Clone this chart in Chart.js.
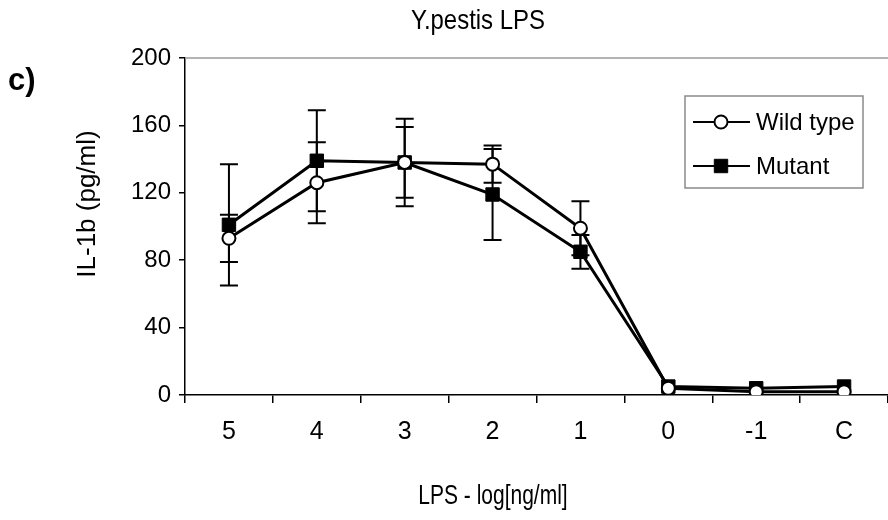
<!DOCTYPE html>
<html>
<head>
<meta charset="utf-8">
<script src="https://cdn.jsdelivr.net/npm/chart.js@4/dist/chart.umd.min.js"></script>
<style>
  html, body { margin: 0; padding: 0; background: #fff; }
  canvas { display: block; }
</style>
</head>
<body>
<canvas id="chart" width="888" height="520"></canvas>
<script>
// ── Data ───────────────────────────────────────────────────────
const categories = ['5', '4', '3', '2', '1', '0', '-1', 'C'];
const wildType   = [93, 126, 138, 137, 99, 4, 2, 2];
const wildErr    = [14, 24, 21, 11, 16, 0, 0, 0];
const mutant     = [101, 139, 138, 119, 85, 5, 4, 5];
const mutantErr  = [36, 30, 26, 27, 10, 0, 0, 0];
const yTicks     = [0, 40, 80, 120, 160, 200];

const SANS = '"Liberation Sans", Arial, sans-serif';

// the scanned figure is squeezed sideways, so horizontal text is narrowed
function narrowText(ctx, text, x, y, sx) {
  ctx.save();
  ctx.translate(x, y);
  ctx.scale(sx, 1);
  ctx.fillText(text, 0, 0);
  ctx.restore();
}

// ── Error bars (drawn under the markers) ───────────────────────
const errorBars = {
  id: 'errorBars',
  beforeDatasetsDraw(chart) {
    const { ctx, scales: { x, y } } = chart;
    ctx.save();
    ctx.strokeStyle = '#000';
    ctx.lineWidth = 2;
    chart.data.datasets.forEach(ds => {
      ds.data.forEach((v, i) => {
        const e = ds.errors[i];
        if (!e) return;
        const px  = x.getPixelForValue(i);
        const top = y.getPixelForValue(v + e);
        const bot = y.getPixelForValue(v - e);
        ctx.beginPath();
        ctx.moveTo(px, top); ctx.lineTo(px, bot);
        ctx.moveTo(px - 9, top); ctx.lineTo(px + 9, top);
        ctx.moveTo(px - 9, bot); ctx.lineTo(px + 9, bot);
        ctx.stroke();
      });
    });
    ctx.restore();
  },
};

// ── Frame, titles, panel letter, legend ────────────────────────
const decorations = {
  id: 'decorations',
  afterDraw(chart) {
    const { ctx, chartArea } = chart;
    ctx.save();

    // grey top edge of the plot area
    ctx.strokeStyle = '#9a9a9a';
    ctx.lineWidth = 1.5;
    ctx.beginPath();
    ctx.moveTo(chartArea.left, chartArea.top);
    ctx.lineTo(chartArea.right, chartArea.top);
    ctx.stroke();

    ctx.fillStyle = '#000';
    ctx.textBaseline = 'middle';
    ctx.textAlign = 'center';
    ctx.font = `28px ${SANS}`;
    narrowText(ctx, 'Y.pestis LPS', 478, 21, 0.855);
    narrowText(ctx, 'LPS - log[ng/ml]', 493, 496, 0.75);

    // y axis title
    ctx.save();
    ctx.translate(88, 204);
    ctx.rotate(-Math.PI / 2);
    ctx.font = `26px ${SANS}`;
    ctx.fillText('IL-1b (pg/ml)', 0, 0);
    ctx.restore();

    ctx.textAlign = 'left';
    ctx.font = `bold 31px ${SANS}`;
    ctx.fillText('c)', 8, 81);

    // legend box
    ctx.strokeStyle = '#8a8a8a';
    ctx.lineWidth = 1.5;
    ctx.strokeRect(685, 96, 178, 92);
    const rows = [122, 166];
    chart.data.datasets.forEach((ds, i) => {
      const yy = rows[i];
      ctx.strokeStyle = '#000';
      ctx.lineWidth = 2;
      ctx.beginPath();
      ctx.moveTo(693, yy); ctx.lineTo(750, yy);
      ctx.stroke();
      ctx.fillStyle = ds.pointBackgroundColor;
      ctx.strokeStyle = ds.pointBorderColor;
      ctx.lineWidth = ds.pointBorderWidth;
      Chart.helpers.drawPoint(ctx, { pointStyle: ds.pointStyle, radius: ds.pointRadius, borderWidth: ds.pointBorderWidth }, 721, yy);
      ctx.fillStyle = '#000';
      ctx.font = `24px ${SANS}`;
      ctx.textAlign = 'left';
      ctx.fillText(ds.label, 756, yy + 1);
    });
    ctx.restore();
  },
};

new Chart(document.getElementById('chart'), {
  type: 'line',
  data: {
    labels: categories,
    datasets: [
      {
        label: 'Wild type',
        data: wildType,
        errors: wildErr,
        borderColor: '#000',
        borderWidth: 3,
        pointStyle: 'circle',
        pointRadius: 6.5,
        pointBackgroundColor: '#fff',
        pointBorderColor: '#000',
        pointBorderWidth: 2,
        tension: 0,
      },
      {
        label: 'Mutant',
        data: mutant,
        errors: mutantErr,
        borderColor: '#000',
        borderWidth: 3,
        pointStyle: 'rect',
        pointRadius: 9.5,
        pointBackgroundColor: '#000',
        pointBorderColor: '#000',
        pointBorderWidth: 1,
        tension: 0,
      },
    ],
  },
  options: {
    responsive: false,
    devicePixelRatio: 1,
    animation: false,
    layout: { autoPadding: false, padding: { top: 58, left: 0, right: 0, bottom: 0 } },
    plugins: {
      legend: { display: false },
      tooltip: { enabled: false },
      title: { display: false },
    },
    scales: {
      x: {
        type: 'category',
        offset: true,
        afterFit: s => { s.height = 125; s.paddingLeft = 0; s.paddingRight = 0; },
        grid: { offset: true, drawOnChartArea: false, drawTicks: true, tickLength: 8, color: '#000', lineWidth: 1.5 },
        border: { color: '#000', width: 1.5 },
        ticks: { color: '#000', font: { family: SANS, size: 25 }, padding: 14, maxRotation: 0 },
      },
      y: {
        min: 0,
        max: 200,
        afterFit: s => { s.width = 185; s.paddingTop = 0; s.paddingBottom = 0; },
        afterBuildTicks: s => { s.ticks = yTicks.map(v => ({ value: v })); },
        grid: { drawOnChartArea: false, drawTicks: true, tickLength: 6, color: '#000', lineWidth: 1.5 },
        border: { color: '#000', width: 1.5 },
        ticks: { color: '#000', font: { family: SANS, size: 24 }, padding: 8 },
      },
    },
  },
  plugins: [errorBars, decorations],
});
</script>
</body>
</html>
